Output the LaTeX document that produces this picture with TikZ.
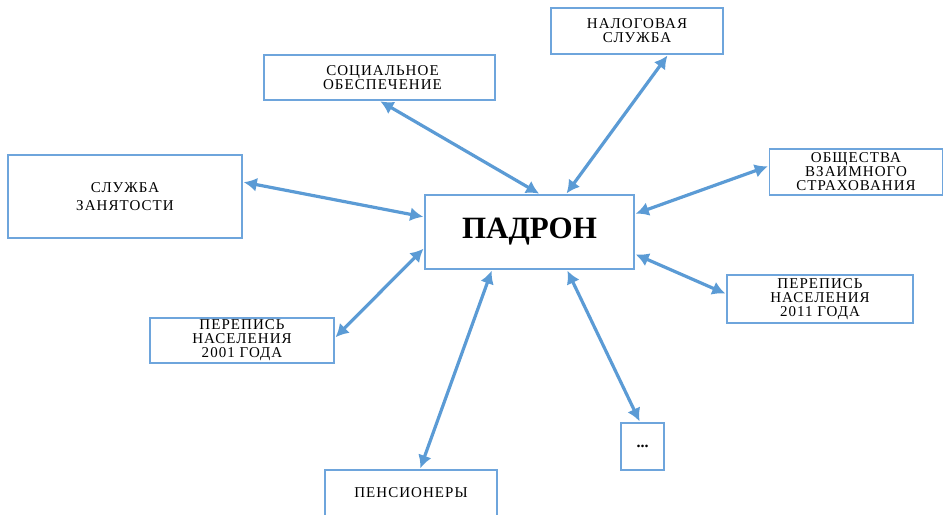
\documentclass[tikz,border=0pt]{standalone}
\usepackage{fontspec}
\setmainfont{Liberation Serif}
\usepackage{tikz}
\usetikzlibrary{arrows.meta, calc}
\definecolor{linkblue}{RGB}{91,155,213}
\definecolor{edgeblue}{RGB}{110,165,220}

\begin{document}
\begin{tikzpicture}[
    x=1pt, y=1pt,
    box/.style={rectangle, draw=edgeblue, line width=1.6pt, fill=white, align=center, inner sep=0pt, font=\fontsize{15}{14}\selectfont\addfontfeature{LetterSpace=7}},
    arrow/.style={{Latex[length=13pt,width=14pt]}-{Latex[length=13pt,width=14pt]}, linkblue, line width=3.2pt, shorten <=1pt, shorten >=1pt}
]
\useasboundingbox (0,0) rectangle (944,514);
\node[box, minimum width=209pt, minimum height=74pt, font=\fontsize{31}{31}\selectfont\bfseries] (padron) at (529.5,282) {ПАДРОН};
\node[box, minimum width=231pt, minimum height=45pt] (soc) at (379.5,436.5) {\hspace*{6pt}СОЦИАЛЬНОЕ\\\hspace*{6pt}ОБЕСПЕЧЕНИЕ};
\node[box, minimum width=172pt, minimum height=46pt] (nalog) at (637,483) {НАЛОГОВАЯ\\СЛУЖБА};
\node[box, minimum width=173pt, minimum height=46pt] (obsh) at (856,342) {ОБЩЕСТВА\\ВЗАИМНОГО\\СТРАХОВАНИЯ};
\node[box, minimum width=186pt, minimum height=48pt] (per2011) at (820,215) {ПЕРЕПИСЬ\\НАСЕЛЕНИЯ\\2011 ГОДА};
\node[box, minimum width=234pt, minimum height=83pt] (sluzhba) at (125,317.5) {СЛУЖБА\\[4pt]ЗАНЯТОСТИ};
\node[box, minimum width=184pt, minimum height=45pt] (per2001) at (242,173.5) {ПЕРЕПИСЬ\\НАСЕЛЕНИЯ\\2001 ГОДА};
\node[box, minimum width=172pt, minimum height=46pt] (pens) at (411,21) {ПЕНСИОНЕРЫ};
\node[box, minimum width=43pt, minimum height=47pt, font=\fontsize{16}{16}\selectfont\bfseries] (dots) at (642.5,67.5) {...};

\draw[arrow] (soc.south) -- ($(padron.north)+(10.5,0)$);
\draw[arrow] ($(nalog.south)+(31,0)$) -- ($(padron.north)+(36.5,0)$);
\draw[arrow] ($(obsh.west)+(0,6)$) -- ($(padron.east)+(0,18)$);
\draw[arrow] ($(padron.east)+(0,-22)$) -- ($(per2011.west)+(0,5)$);
\draw[arrow] ($(sluzhba.east)+(0,14.5)$) -- ($(padron.west)+(0,15)$);
\draw[arrow] ($(per2001.east)+(0,2.5)$) -- ($(padron.west)+(0,-16)$);
\draw[arrow] ($(pens.north)+(9,0)$) -- ($(padron.south)+(-37.5,0)$);
\draw[arrow] ($(padron.south)+(37.5,0)$) -- ($(dots.north)+(-2.5,0)$);
\end{tikzpicture}
\end{document}
